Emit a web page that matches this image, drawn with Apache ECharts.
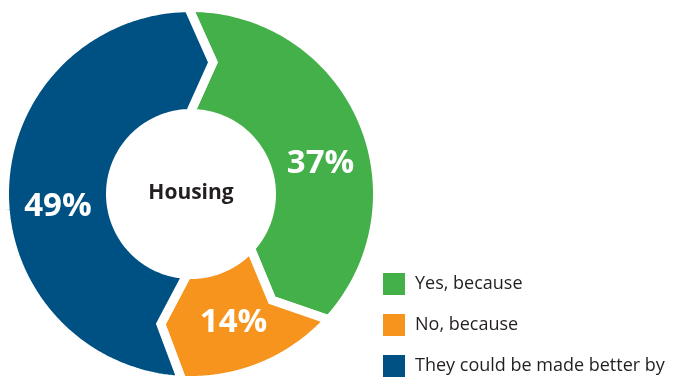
<!DOCTYPE html>
<html>
<head>
<meta charset="utf-8">
<script src="https://cdn.jsdelivr.net/npm/echarts@6/dist/echarts.min.js"></script>
<style>
  html, body { margin: 0; padding: 0; background: #fff; }
  #chart { width: 677px; height: 377px; }
</style>
</head>
<body>
<div id="chart"></div>
<script>
// Survey answers for "Housing"
const categories = ['Yes, because', 'No, because', 'They could be made better by'];
const shares = [37, 14, 49];          // percent of respondents
const centerLabel = 'Housing';

const colors = ['#43B04A', '#F7941D', '#005183'];
// angular nudge (in percent units) applied to each value label
const labelShift = [2.86, 1.06, -1.58];

// ring geometry in pixels (stroke of GAP/2 eats into each edge)
const GAP = 9;
const R_OUT = 182 + GAP / 2;
const R_IN = 85 - GAP / 2;
const R_MID = 133.5;
const TIP = 2.85;   // how far each chevron tip leads its boundary, in percent units

// cumulative start/end for each ring segment
const spans = [];
let acc = 0;
shares.forEach(v => { spans.push([acc, acc + v]); acc += v; });

function makeRenderer(idx) {
  return function (params, api) {
    const a0 = api.value(0), a1 = api.value(1);
    const steps = 120;
    const pts = [];
    for (let i = 0; i <= steps; i++) {
      pts.push(api.coord([R_OUT, a0 + (a1 - a0) * i / steps]));
    }
    pts.push(api.coord([R_MID, a1 + TIP]));
    for (let i = steps; i >= 0; i--) {
      pts.push(api.coord([R_IN, a0 + (a1 - a0) * i / steps]));
    }
    pts.push(api.coord([R_MID, a0 + TIP]));
    const lp = api.coord([R_MID, (a0 + a1) / 2 + labelShift[idx]]);
    return {
      type: 'group',
      children: [
        {
          type: 'polygon',
          shape: { points: pts },
          style: { fill: colors[idx], stroke: '#fff', lineWidth: GAP, lineJoin: 'miter' }
        },
        {
          type: 'text',
          x: lp[0],
          y: lp[1] + 2,
          style: {
            text: shares[idx] + '%',
            fill: '#fff',
            fontSize: 33,
            fontWeight: 'bold',
            fontFamily: '"Open Sans", sans-serif',
            align: 'center',
            verticalAlign: 'middle'
          }
        }
      ]
    };
  };
}

const chart = echarts.init(document.getElementById('chart'), null, { renderer: 'canvas' });
chart.setOption({
  animation: false,
  backgroundColor: '#fff',
  tooltip: { show: false },
  polar: { center: [191, 194], radius: R_OUT },
  angleAxis: {
    type: 'value', min: 0, max: 100, startAngle: 90.8, clockwise: true, show: false,
    axisLine: { show: false }, axisTick: { show: false }, axisLabel: { show: false }, splitLine: { show: false }
  },
  radiusAxis: {
    type: 'value', min: 0, max: R_OUT, show: false,
    axisLine: { show: false }, axisTick: { show: false }, axisLabel: { show: false }, splitLine: { show: false }
  },
  legend: {
    data: categories,
    orient: 'vertical',
    left: 383,
    top: 273,
    padding: 0,
    icon: 'rect',
    itemWidth: 22,
    itemHeight: 22,
    itemGap: 19,
    selectedMode: false,
    textStyle: { fontSize: 18, color: '#231f20', fontFamily: '"Open Sans", sans-serif', padding: [0, 0, 0, 5] }
  },
  graphic: [{
    type: 'text',
    x: 191,
    y: 193,
    style: {
      text: centerLabel,
      fill: '#231f20',
      fontSize: 21,
      fontWeight: 'bold',
      fontFamily: '"Open Sans", sans-serif',
      align: 'center',
      verticalAlign: 'middle'
    }
  }],
  series: categories.map((name, i) => ({
    type: 'custom',
    name: name,
    coordinateSystem: 'polar',
    itemStyle: { color: colors[i] },
    renderItem: makeRenderer(i),
    data: [spans[i]]
  }))
});
</script>
</body>
</html>
